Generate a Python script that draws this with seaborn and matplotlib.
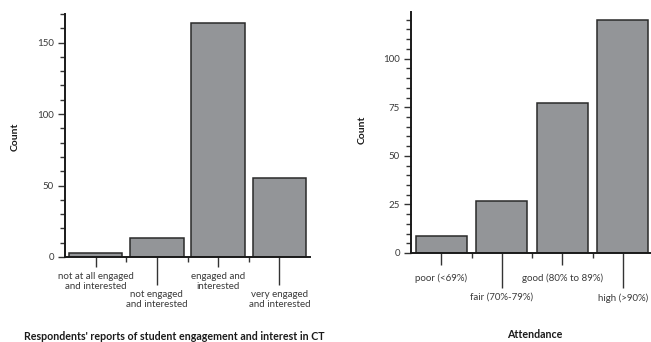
import matplotlib
matplotlib.use("Agg")
import matplotlib.pyplot as plt
import seaborn as sns
import pandas as pd
from matplotlib.ticker import MultipleLocator

# ------------------------------------------------------
# Données
# ------------------------------------------------------
engagement = ["not at all engaged\nand interested", "not engaged\nand interested",
              "engaged and\ninterested", "very engaged\nand interested"]
engagement_count = [3, 13, 164, 55]

attendance = ["poor (<69%)", "fair (70%-79%)", "good (80% to 89%)", "high (>90%)"]
attendance_count = [9, 27, 77, 120]

df_eng = pd.DataFrame({"cat": engagement, "Count": engagement_count})
df_att = pd.DataFrame({"cat": attendance, "Count": attendance_count})

# ------------------------------------------------------
# Style
# ------------------------------------------------------
sns.set_theme(style="ticks")
plt.rcParams["font.family"] = ["Lato", "DejaVu Sans"]
txt = "#3a3a3a"
bar_col = "#939598"
edge_col = "#2a2a2a"
px = 0.72  # 1 px en points (dpi 100)

fig = plt.figure(figsize=(6.51, 3.42), dpi=100)
ax1 = fig.add_axes([65 / 651, 85 / 342, 245 / 651, 243 / 342])
ax2 = fig.add_axes([411 / 651, 89 / 342, 242 / 651, 241 / 342])


def draw(ax, df, width, ymax, minor, major, short, long_, gap_s, gap_l, xlab, xlab_pos, ylab_pos):
    sns.barplot(data=df, x="cat", y="Count", color=bar_col, edgecolor=edge_col,
                linewidth=1.1, width=width, saturation=1, ax=ax)
    ax.set_xlim(-0.5, 3.5)
    ax.set_ylim(0, ymax)
    sns.despine(ax=ax)
    for s in ["left", "bottom"]:
        ax.spines[s].set_linewidth(1.4)
        ax.spines[s].set_color("#1a1a1a")

    ax.yaxis.set_major_locator(MultipleLocator(major))
    ax.yaxis.set_minor_locator(MultipleLocator(minor))
    ax.tick_params(axis="y", which="major", length=7 * px, width=1.0, color="#333333",
                   labelsize=7, labelcolor=txt, pad=3)
    ax.tick_params(axis="y", which="minor", length=5 * px, width=1.0, color="#333333")

    ax.set_xticks(range(len(df)))
    ax.set_xticklabels(df["cat"])
    ax.set_xticks([0.5, 1.5, 2.5], minor=True)
    ax.tick_params(axis="x", which="major", length=short * px, width=1.0, color="#333333",
                   labelsize=7, labelcolor=txt)
    ax.tick_params(axis="x", which="minor", length=5 * px, width=1.0, color="#333333")
    # ticks alternés : courts / longs, avec l'étiquette décalée d'autant
    # (set_pad remet la taille du marqueur, donc on règle la taille après)
    for i, t in enumerate(ax.xaxis.get_major_ticks()):
        ln, gap = (short, gap_s) if i % 2 == 0 else (long_, gap_l)
        t.set_pad((ln - short + gap) * px)
        t.tick1line.set_markersize(ln * px)

    ax.set_xlabel(xlab, fontsize=7.7, fontweight="bold", color="#1a1a1a")
    ax.xaxis.set_label_coords(*xlab_pos)
    ax.set_ylabel("Count", fontsize=7.5, fontweight="bold", color="#1a1a1a")
    ax.yaxis.set_label_coords(*ylab_pos)


draw(ax1, df_eng, 0.87, 170, 10, 50, 10, 28, 5, 5,
     "Respondents' reports of student engagement and interest in CT",
     (0.447, -0.305), (-0.184, 0.494))
draw(ax2, df_att, 0.85, 124, 5, 25, 12, 35, 8, 5,
     "Attendance", (0.512, -0.315), (-0.182, 0.51))

fig.savefig("out.png", dpi=100)
